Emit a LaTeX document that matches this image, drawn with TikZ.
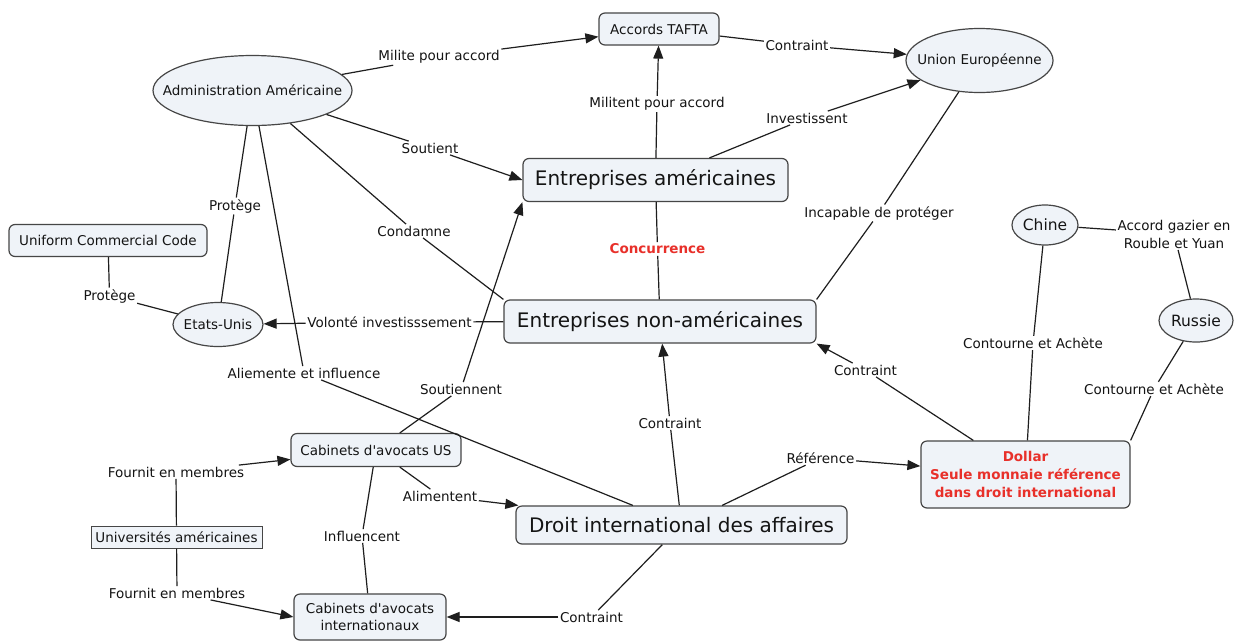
\documentclass[tikz,border=0pt]{standalone}
\usepackage{fontspec}
\setmainfont{DejaVu Sans}
\newfontfamily\vf{DejaVu Sans}
\usetikzlibrary{arrows.meta,shapes.geometric}
\definecolor{nodefill}{RGB}{239,243,248}
\definecolor{bordercol}{RGB}{70,70,70}
\definecolor{linecol}{RGB}{30,30,30}
\definecolor{textcol}{RGB}{20,20,20}
\definecolor{redtxt}{RGB}{232,48,42}
\newcommand\fsz[2]{\vf\fontsize{#1}{#2}\selectfont}
\begin{document}
\begin{tikzpicture}[x=1pt,y=-1pt,
  box/.style={draw=bordercol, fill=nodefill, line width=1.2pt, rounded corners=6pt, inner sep=0pt, align=center, text=textcol, font={\fsz{13.5}{17.5}}},
  oval/.style={draw=bordercol, fill=nodefill, line width=1.2pt, ellipse, inner sep=0pt},
  ovaltext/.style={text=textcol, font={\fsz{13.5}{17}}, inner sep=0pt},
  bigovaltext/.style={text=textcol, font={\fsz{15.5}{18}}, inner sep=0pt},
  bigtext/.style={font={\fsz{20}{24}}},
  lab/.style={inner sep=1.5pt, text=textcol, font={\fsz{13.5}{18}}, align=center},
  redlab/.style={lab, text=redtxt, font={\bfseries\fsz{13.5}{18}}},
  link/.style={draw=linecol, line width=1.2pt},
  arr/.style={link, -{Triangle[length=13pt,width=10pt]}}]
\useasboundingbox (0,0) rectangle (1239,641);
\fill[white] (0,0) rectangle (1239,641);

% concepts
\node[box, minimum width=120pt, minimum height=32pt] (tafta) at (659,29) {Accords TAFTA};
\node[oval, minimum width=147pt, minimum height=64pt, label={[ovaltext]center:Union Européenne}] (ue) at (979.5,60.5) {};
\node[oval, minimum width=199pt, minimum height=70pt, label={[ovaltext]center:Administration Américaine}] (adm) at (252.5,90.5) {};
\node[box, bigtext, minimum width=265pt, minimum height=43pt] (ea) at (655.5,180) {Entreprises américaines};
\node[box, minimum width=198pt, minimum height=32pt] (ucc) at (108,240.5) {Uniform Commercial Code};
\node[oval, minimum width=90pt, minimum height=44pt, label={[ovaltext]center:Etats-Unis}] (eu) at (218,324.5) {};
\node[box, bigtext, minimum width=312pt, minimum height=43pt] (nea) at (660,321.5) {Entreprises non-américaines};
\node[oval, minimum width=66pt, minimum height=40pt, label={[bigovaltext]center:Chine}] (chine) at (1045,225) {};
\node[oval, minimum width=74pt, minimum height=43pt, label={[bigovaltext]center:Russie}] (russie) at (1196,320.5) {};
\node[box, minimum width=209pt, minimum height=67pt, text=redtxt, font={\bfseries\fsz{13.5}{18}}] (dollar) at (1025.5,474.5) {Dollar\\Seule monnaie référence\\dans droit international};
\node[box, minimum width=170pt, minimum height=33pt] (cus) at (376,450) {Cabinets d'avocats US};
\node[box, rounded corners=0pt, line width=1pt, minimum width=171pt, minimum height=22pt] (univ) at (176.5,537) {Universités américaines};
\node[box, bigtext, minimum width=331pt, minimum height=38pt] (droit) at (681.5,525) {Droit international des affaires};
\node[box, minimum width=152pt, minimum height=46pt] (ci) at (370,617) {Cabinets d'avocats\\internationaux};

% linking phrases
\node[lab] (l1) at (439,57) {Milite pour accord};
\node[lab] (l2) at (797,45) {Contraint};
\node[lab] (l3) at (657,104) {Militent pour accord};
\node[lab] (l4) at (807,118) {Investissent};
\node[lab] (l5) at (430,148) {Soutient};
\node[lab] (l6) at (235,206) {Protège};
\node[lab] (l7) at (414,231) {Condamne};
\node[lab] (l8) at (304,373) {Aliemente et influence};
\node[redlab] (l9) at (657.5,249) {Concurrence};
\node[lab] (l10) at (879,213) {Incapable de protéger};
\node[lab] (l11) at (109.5,296) {Protège};
\node[lab] (l12) at (389.5,322) {Volonté investisssement};
\node[lab] (l13) at (461,389) {Soutiennent};
\node[lab] (l14) at (670,423) {Contraint};
\node[lab] (l15) at (865.5,370) {Contraint};
\node[lab] (l16) at (1033,343) {Contourne et Achète};
\node[lab] (l17) at (1174,234) {Accord gazier en\\Rouble et Yuan};
\node[lab] (l18) at (1154,389) {Contourne et Achète};
\node[lab] (l19) at (820.5,458) {Référence};
\node[lab] (l20) at (176,472) {Fournit en membres};
\node[lab] (l21) at (177,593) {Fournit en membres};
\node[lab] (l22) at (440,496) {Alimentent};
\node[lab] (l23) at (362,536) {Influencent};
\node[lab] (l24) at (591.5,617) {Contraint};

% connectors
\draw[link] (adm) -- (l1); \draw[arr] (l1) -- (tafta);
\draw[link] (tafta) -- (l2); \draw[arr] (l2) -- (ue);
\draw[link] (ea) -- (l3); \draw[arr] (l3) -- (tafta);
\draw[link] (ea) -- (l4); \draw[arr] (l4) -- (ue);
\draw[link] (adm) -- (l5); \draw[arr] (l5) -- (ea.west);
\draw[link] (adm) -- (l6); \draw[link] (l6) -- (eu);
\draw[link] (adm) -- (l7); \draw[link] (l7) -- (nea.north west);
\draw[link] (adm) -- (l8); \draw[link] (l8) -- (droit);
\draw[link] (ea) -- (l9); \draw[link] (l9) -- (nea);
\draw[link] (ue) -- (l10); \draw[link] (l10) -- (nea.north east);
\draw[link] (ucc) -- (l11); \draw[link] (l11) -- (eu);
\draw[link] (nea) -- (l12); \draw[arr] (l12) -- (eu);
\draw[link] (cus) -- (l13); \draw[arr] (l13) -- (ea.south west);
\draw[link] (droit) -- (l14); \draw[arr] (l14) -- (nea);
\draw[link] (dollar) -- (l15); \draw[arr] (l15) -- (nea.south east);
\draw[link] (chine) -- (l16); \draw[link] (l16) -- (dollar);
\draw[link] (chine) -- (l17); \draw[link] (l17) -- (russie);
\draw[link] (russie) -- (l18); \draw[link] (l18) -- (dollar.north east);
\draw[link] (droit) -- (l19); \draw[arr] (l19) -- (dollar);
\draw[link] (univ) -- (l20); \draw[arr] (l20) -- (cus);
\draw[link] (univ) -- (l21); \draw[arr] (l21) -- (ci.west);
\draw[link] (cus) -- (l22); \draw[arr] (l22) -- (droit);
\draw[link] (cus) -- (l23); \draw[link] (l23) -- (ci);
\draw[link] (droit) -- (l24); \draw[arr] (l24) -- (ci);
\end{tikzpicture}
\end{document}
